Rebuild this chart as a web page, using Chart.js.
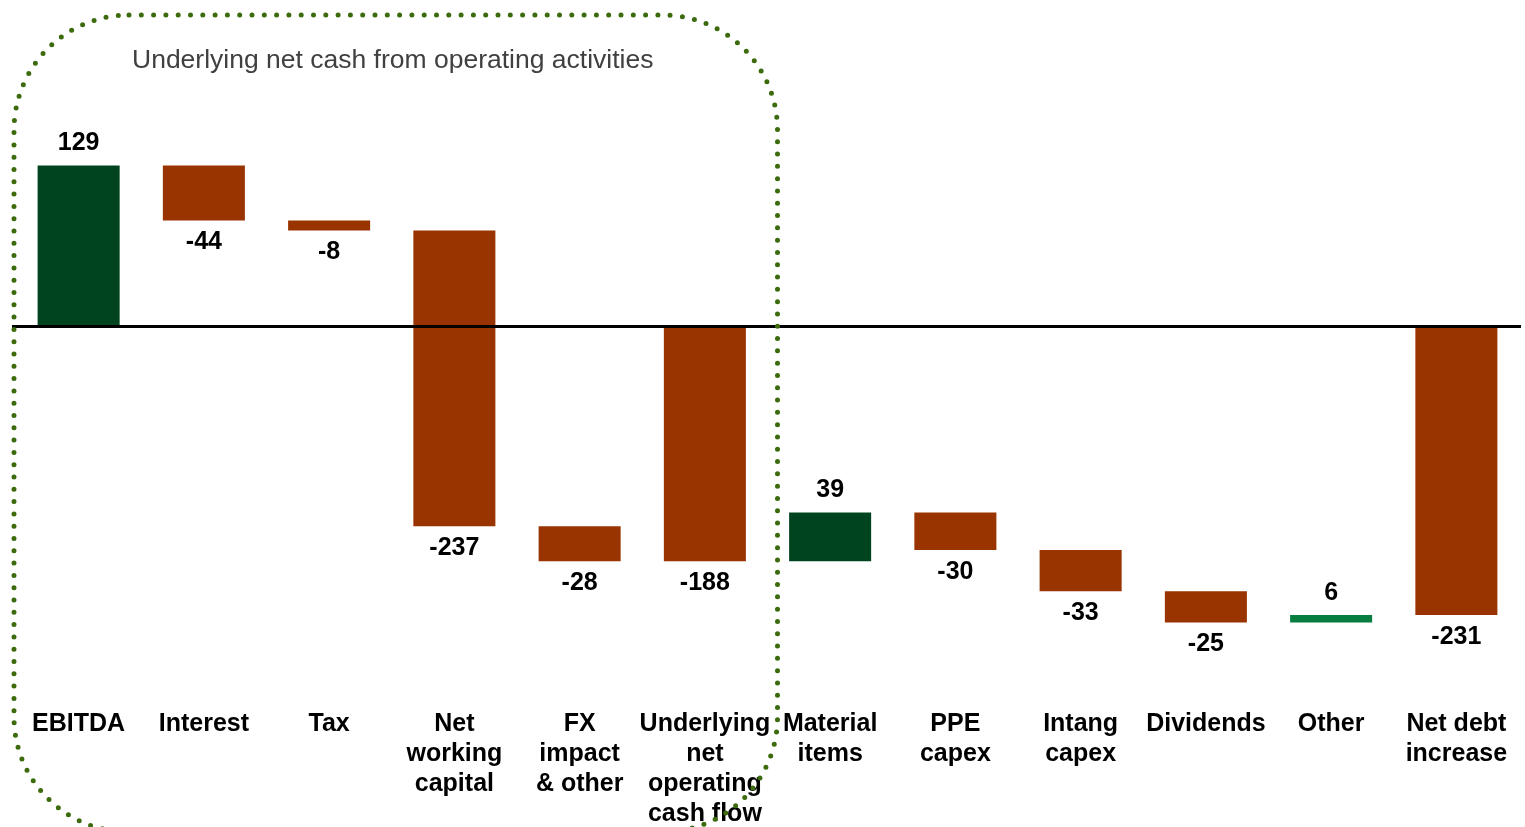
<!DOCTYPE html>
<html>
<head>
<meta charset="utf-8">
<script src="https://cdn.jsdelivr.net/npm/chart.js@4"></script>
<style>
  html, body { margin: 0; padding: 0; background: #fff; overflow: hidden; }
  #wrap { width: 1525px; height: 837px; position: relative; }
</style>
</head>
<body>
<div id="wrap"><canvas id="c"></canvas></div>
<script>
const categories = [
  'EBITDA', 'Interest', 'Tax', ['Net', 'working', 'capital'], ['FX', 'impact', '& other'],
  ['Underlying', 'net', 'operating', 'cash flow'], ['Material', 'items'], ['PPE', 'capex'],
  ['Intang', 'capex'], 'Dividends', 'Other', ['Net debt', 'increase']
];
const values = [129, -44, -8, -237, -28, -188, 39, -30, -33, -25, 6, -231];
const isTotal = [false, false, false, false, false, true, false, false, false, false, false, true];
const barColors = ['#00441f', '#993300', '#993300', '#993300', '#993300', '#993300',
                   '#00441f', '#993300', '#993300', '#993300', '#077d40', '#993300'];
const boxTitle = 'Underlying net cash from operating activities';

// Build floating ranges from the values (waterfall)
const ranges = [];
let running = 0;
values.forEach((v, i) => {
  if (isTotal[i]) {
    ranges.push([0, v]);
    running = v;
  } else {
    ranges.push([running, running + v]);
    running += v;
  }
});

const FONT = '"Liberation Sans", Arial, sans-serif';

const overlay = {
  id: 'overlay',
  afterDatasetsDraw(chart) {
    const ctx = chart.ctx;
    const x = chart.scales.x, y = chart.scales.y;
    const area = chart.chartArea;
    // zero line
    const y0 = y.getPixelForValue(0);
    ctx.save();
    ctx.strokeStyle = '#000';
    ctx.lineWidth = 3;
    ctx.beginPath();
    ctx.moveTo(area.left - 4, y0);
    ctx.lineTo(area.right + 2, y0);
    ctx.stroke();

    // value labels
    ctx.fillStyle = '#000';
    ctx.font = 'bold 25px ' + FONT;
    ctx.textAlign = 'center';
    ctx.textBaseline = 'middle';
    const meta = chart.getDatasetMeta(0);
    meta.data.forEach((bar, i) => {
      const v = values[i];
      const top = Math.min(bar.y, bar.base);
      const bottom = Math.max(bar.y, bar.base);
      const ly = v >= 0 ? top - 22 : bottom + 22;
      ctx.fillText(String(v), bar.x, ly);
    });

    // dotted rounded box around operating activities
    const left = area.left - 2;
    const right = (x.getPixelForValue(5) + x.getPixelForValue(6)) / 2 + 10;
    const top = 15;
    const bottom = 832;
    const r = 115;
    ctx.strokeStyle = '#3b6b0c';
    ctx.lineWidth = 5;
    ctx.lineCap = 'round';
    ctx.setLineDash([0, 12.3]);
    ctx.beginPath();
    ctx.moveTo(left + r, top);
    ctx.lineTo(right - r, top);
    ctx.arcTo(right, top, right, top + r, r);
    ctx.lineTo(right, bottom - r);
    ctx.arcTo(right, bottom, right - r, bottom, r);
    ctx.lineTo(left + r, bottom);
    ctx.arcTo(left, bottom, left, bottom - r, r);
    ctx.lineTo(left, top + r);
    ctx.arcTo(left, top, left + r, top, r);
    ctx.stroke();
    ctx.setLineDash([]);

    // box title
    ctx.fillStyle = '#404040';
    ctx.font = '26.5px ' + FONT;
    ctx.textAlign = 'left';
    ctx.textBaseline = 'middle';
    ctx.fillText(boxTitle, left + 118, 61);
    ctx.restore();
  }
};

new Chart(document.getElementById('c'), {
  type: 'bar',
  data: {
    labels: categories,
    datasets: [{
      data: ranges,
      backgroundColor: barColors,
      borderWidth: 0,
      borderSkipped: false,
      categoryPercentage: 1.0,
      barPercentage: 0.655
    }]
  },
  options: {
    responsive: true,
    maintainAspectRatio: false,
    animation: false,
    layout: { padding: { left: 16, right: 6, top: 77, bottom: 0 } },
    plugins: { legend: { display: false }, tooltip: { enabled: false } },
    scales: {
      x: {
        grid: { display: false, drawTicks: false },
        border: { display: false },
        ticks: {
          color: '#000',
          font: { family: FONT, size: 25, weight: 'bold', lineHeight: 1.2 },
          padding: 8,
          maxRotation: 0,
          autoSkip: false
        }
      },
      y: {
        display: false,
        min: -300,
        max: 200
      }
    }
  },
  plugins: [overlay]
});
</script>
</body>
</html>
